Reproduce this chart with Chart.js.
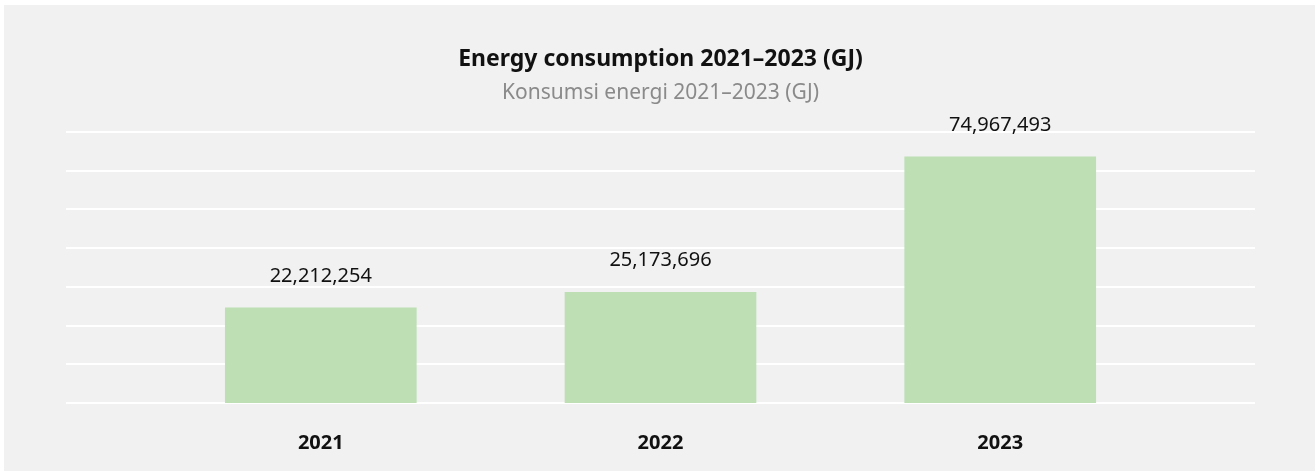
<!DOCTYPE html>
<html>
<head>
<meta charset="utf-8">
<script src="https://cdn.jsdelivr.net/npm/chart.js@4"></script>
<style>
  html, body { margin: 0; padding: 0; background: #ffffff; }
  #wrap {
    position: absolute;
    left: 4px; top: 5px; right: 0; bottom: 0;
    background: #f0f1f0;
  }
</style>
</head>
<body>
<div id="wrap"><canvas id="myChart"></canvas></div>
<script>
// values
var years = [2021, 2022, 2023];
var energyGJ = [22212254, 25173696, 74967493];

var titleText = 'Energy consumption 2021\u20132023 (GJ)';
var subtitleText = 'Konsumsi energi 2021\u20132023 (GJ)';

var points = [];
for (var i = 0; i < years.length; i++) {
  points.push({ x: years[i], y: energyGJ[i] });
}

// draws the number above each bar
const valueLabels = {
  id: 'valueLabels',
  afterDatasetsDraw(chart) {
    var ctx = chart.ctx;
    var meta = chart.getDatasetMeta(0);
    ctx.save();
    ctx.font = '20px "Noto Sans"';
    ctx.fillStyle = '#111111';
    ctx.textAlign = 'center';
    ctx.textBaseline = 'middle';
    meta.data.forEach(function (bar, i) {
      var v = chart.data.datasets[0].data[i].y;
      ctx.fillText(v.toLocaleString('en-US'), bar.x, bar.y - 32);
    });
    ctx.restore();
  }
};

const config = {
  type: 'bar',
  data: {
    datasets: [{
      label: 'Energy consumption (GJ)',
      data: points,
      backgroundColor: '#bddfb3',
      borderWidth: 0,
      barThickness: 191,
      yAxisID: 'y'
    }]
  },
  options: {
    responsive: true,
    maintainAspectRatio: false,
    animation: false,
    layout: {
      padding: { left: 62, right: 60, top: 0, bottom: 0 }
    },
    plugins: {
      legend: { display: false },
      tooltip: { enabled: false },
      title: {
        display: true,
        text: titleText,
        color: '#111111',
        font: { family: 'Noto Sans', size: 23, weight: 'bold' },
        padding: { top: 41, bottom: 7 }
      },
      subtitle: {
        display: true,
        text: subtitleText,
        color: '#8a8a8a',
        font: { family: 'Noto Sans', size: 21 },
        padding: { top: 0, bottom: 26 }
      }
    },
    scales: {
      x: {
        type: 'linear',
        offset: false,
        min: 2020.25,
        max: 2023.75,
        afterBuildTicks: function (axis) {
          axis.ticks = years.map(function (y) { return { value: y }; });
        },
        afterFit: function (axis) {
          axis.height = 68;
        },
        grid: { display: false, drawTicks: false },
        border: { display: false },
        ticks: {
          color: '#111111',
          font: { family: 'Noto Sans', size: 20, weight: 'bold' },
          padding: 28,
          maxRotation: 0,
          callback: function (v) { return String(v); }
        }
      },
      y: {
        type: 'logarithmic',
        display: false,
        bounds: 'data',
        min: 10330000,
        max: 91700000
      },
      grid: {
        type: 'linear',
        position: 'left',
        min: 0,
        max: 7,
        ticks: { display: false, stepSize: 1 },
        grid: { color: '#ffffff', lineWidth: 2, drawTicks: false },
        border: { display: false }
      }
    }
  },
  plugins: [valueLabels]
};

const myChart = new Chart(document.getElementById('myChart'), config);
</script>
</body>
</html>
